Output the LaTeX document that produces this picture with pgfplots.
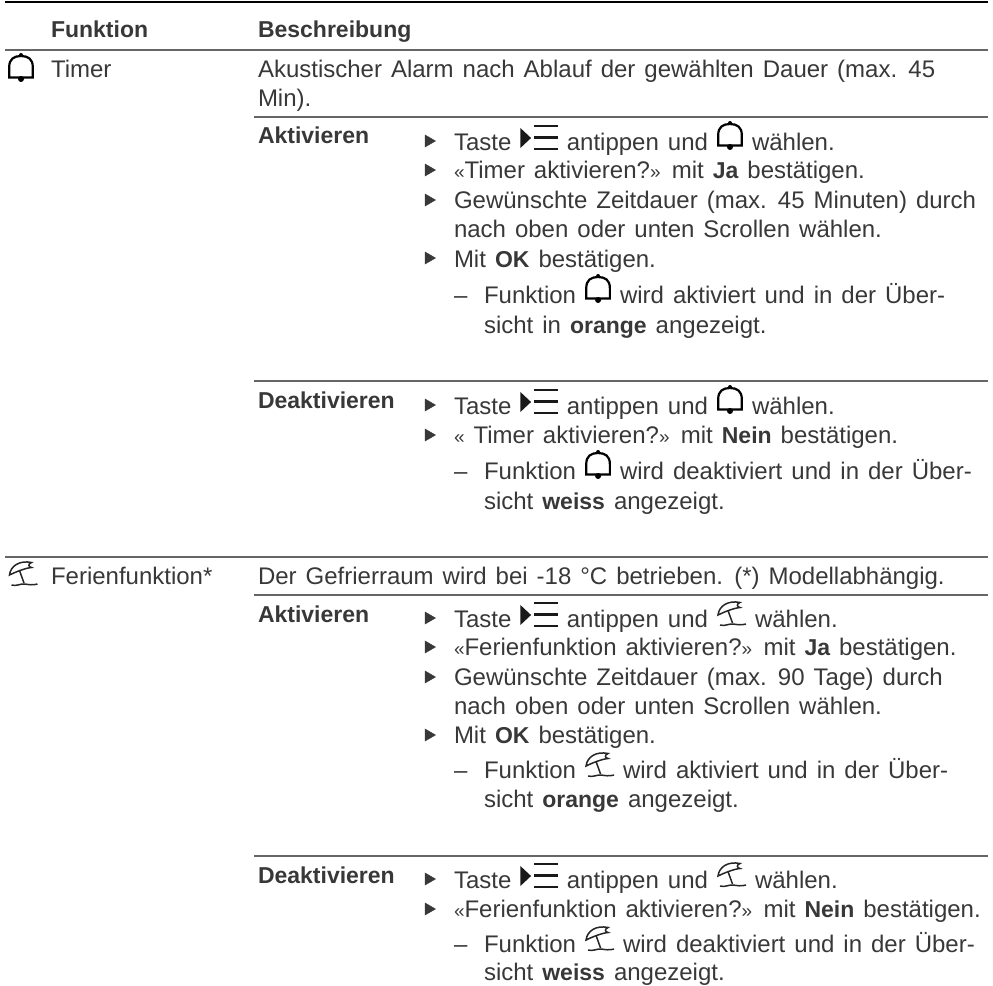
\documentclass[border=0pt]{standalone}
\usepackage{pgfplots}
\pgfplotsset{compat=1.18}
\usepackage{fontspec}
\setmainfont{Liberation Sans}[WordSpace=1.35]
\definecolor{txt}{HTML}{383838}
\definecolor{rul}{HTML}{666666}
\newsavebox{\bellbox}
\newsavebox{\umbox}
\newsavebox{\menubox}
\sbox{\bellbox}{\begin{tikzpicture}[x=1pt,y=1pt,line width=2.2pt,black]
\useasboundingbox (0,0) rectangle (26,29);
\draw (1.2,4.5) -- (1.2,15) .. controls (1.2,23) and (6,26) .. (13,26) .. controls (20,26) and (24.8,23) .. (24.8,15) -- (24.8,4.5) -- cycle;
\fill (13,27) circle (2);
\fill (13,3) circle (3);
\end{tikzpicture}}
\sbox{\umbox}{\begin{tikzpicture}[x=1pt,y=1pt,line width=1.5pt,black!85]
\useasboundingbox (0,0) rectangle (29,26);
\draw (1,12) .. controls (2,21) and (11,27) .. (23,24.5) .. controls (19,23) and (20,20) .. (23,19.5) .. controls (17,19) and (7,15) .. (1,12) -- cycle;
\draw (11,16.5) -- (15.5,4);
\draw (3,2) .. controls (8,0.5) and (12,3.5) .. (16,3) .. controls (20,2.5) and (24,1.5) .. (29,3);
\end{tikzpicture}}
\sbox{\menubox}{\begin{tikzpicture}[x=1pt,y=1pt,black!90]
\useasboundingbox (0,0) rectangle (37.5,25.5);
\fill (0,2) -- (0,22) -- (10.7,12) -- cycle;
\fill (14,0) rectangle (37.5,2.5);
\fill (14,11.5) rectangle (37.5,14);
\fill (14,23) rectangle (37.5,25.5);
\end{tikzpicture}}
\newcommand{\bell}{\usebox{\bellbox}}
\newcommand{\um}{\usebox{\umbox}}
\newcommand{\menu}{\usebox{\menubox}}
\newcommand{\mybold}[1]{{\fontsize{23}{29}\selectfont\bfseries #1}}
\newcommand{\gql}{{\fontsize{19}{19}\selectfont«}}
\newcommand{\gqr}{{\fontsize{19}{19}\selectfont»}}
\newcommand{\T}[3]{\node[anchor=base west,inner sep=0pt,outer sep=0pt,text=txt,font=\fontsize{24}{29}\selectfont] at (axis cs:#1,#2) {#3};}
\begin{document}
\begin{tikzpicture}
\begin{axis}[scale only axis,width=993pt,height=985pt,xmin=0,xmax=993,ymin=0,ymax=985,y dir=reverse,hide axis,clip=false]
% rules
\addplot[black,line width=2.6pt,forget plot] coordinates {(5,2) (988,2)};
\addplot[rul,line width=1.4pt,forget plot] coordinates {(5,50) (988,50)};
\addplot[rul,line width=1.4pt,forget plot] coordinates {(254,117) (988,117)};
\addplot[rul,line width=1.4pt,forget plot] coordinates {(254,381) (988,381)};
\addplot[rul,line width=1.4pt,forget plot] coordinates {(5,557) (988,557)};
\addplot[rul,line width=1.4pt,forget plot] coordinates {(254,595) (988,595)};
\addplot[rul,line width=1.4pt,forget plot] coordinates {(254,856) (988,856)};
% bullets
\addplot[only marks,mark=triangle*,mark size=7pt,mark options={rotate=-90,fill=txt,draw=txt},forget plot] coordinates {
(428.5,141)(428.5,170)(428.5,200)(428.5,258)(428.5,405)(428.5,435)
(428.5,618)(428.5,647)(428.5,677)(428.5,735)(428.5,879)(428.5,909)};
% header
\T{51}{37}{\mybold{Funktion}}
\T{258}{37}{\mybold{Beschreibung}}
% icons
\T{8}{82}{\bell}
\T{8.5}{587}{\um}
% Timer
\T{51}{77}{Timer}
\T{258}{77}{Akustischer Alarm nach Ablauf der gewählten Dauer (max. 45}
\T{258}{106}{Min).}
\T{258}{143}{\mybold{Aktivieren}}
\T{454}{150}{Taste \menu{} antippen und \bell{} wählen.}
\T{454}{178}{\gql Timer aktivieren?\gqr{} mit \mybold{Ja} bestätigen.}
\T{454}{208}{Gewünschte Zeitdauer (max. 45 Minuten) durch}
\T{454}{237}{nach oben oder unten Scrollen wählen.}
\T{454}{267}{Mit \mybold{OK} bestätigen.}
\T{454}{303}{–}
\T{484}{303}{Funktion \bell{} wird aktiviert und in der Über-}
\T{484}{333}{sicht in \mybold{orange} angezeigt.}
\T{258}{408}{\mybold{Deaktivieren}}
\T{454}{414}{Taste \menu{} antippen und \bell{} wählen.}
\T{454}{443}{\gql{} Timer aktivieren?\gqr{} mit \mybold{Nein} bestätigen.}
\T{454}{479}{–}
\T{484}{479}{Funktion \bell{} wird deaktiviert und in der Über-}
\T{484}{509}{sicht \mybold{weiss} angezeigt.}
% Ferien
\T{51}{584}{Ferienfunktion*}
\T{258}{584}{Der Gefrierraum wird bei -18 °C betrieben. (*) Modellabhängig.}
\T{258}{622}{\mybold{Aktivieren}}
\T{454}{627}{Taste \menu{} antippen und \um{} wählen.}
\T{454}{655}{\gql Ferienfunktion aktivieren?\gqr{} mit \mybold{Ja} bestätigen.}
\T{454}{685}{Gewünschte Zeitdauer (max. 90 Tage) durch}
\T{454}{714}{nach oben oder unten Scrollen wählen.}
\T{454}{743}{Mit \mybold{OK} bestätigen.}
\T{454}{778}{–}
\T{484}{778}{Funktion \um{} wird aktiviert und in der Über-}
\T{484}{807}{sicht \mybold{orange} angezeigt.}
\T{258}{883}{\mybold{Deaktivieren}}
\T{454}{888}{Taste \menu{} antippen und \um{} wählen.}
\T{454}{917}{\gql Ferienfunktion aktivieren?\gqr{} mit \mybold{Nein} bestätigen.}
\T{454}{952}{–}
\T{484}{952}{Funktion \um{} wird deaktiviert und in der Über-}
\T{484}{980}{sicht \mybold{weiss} angezeigt.}
\end{axis}
\pgfresetboundingbox
\path (0,0) rectangle (993pt,985pt);
\end{tikzpicture}
\end{document}
